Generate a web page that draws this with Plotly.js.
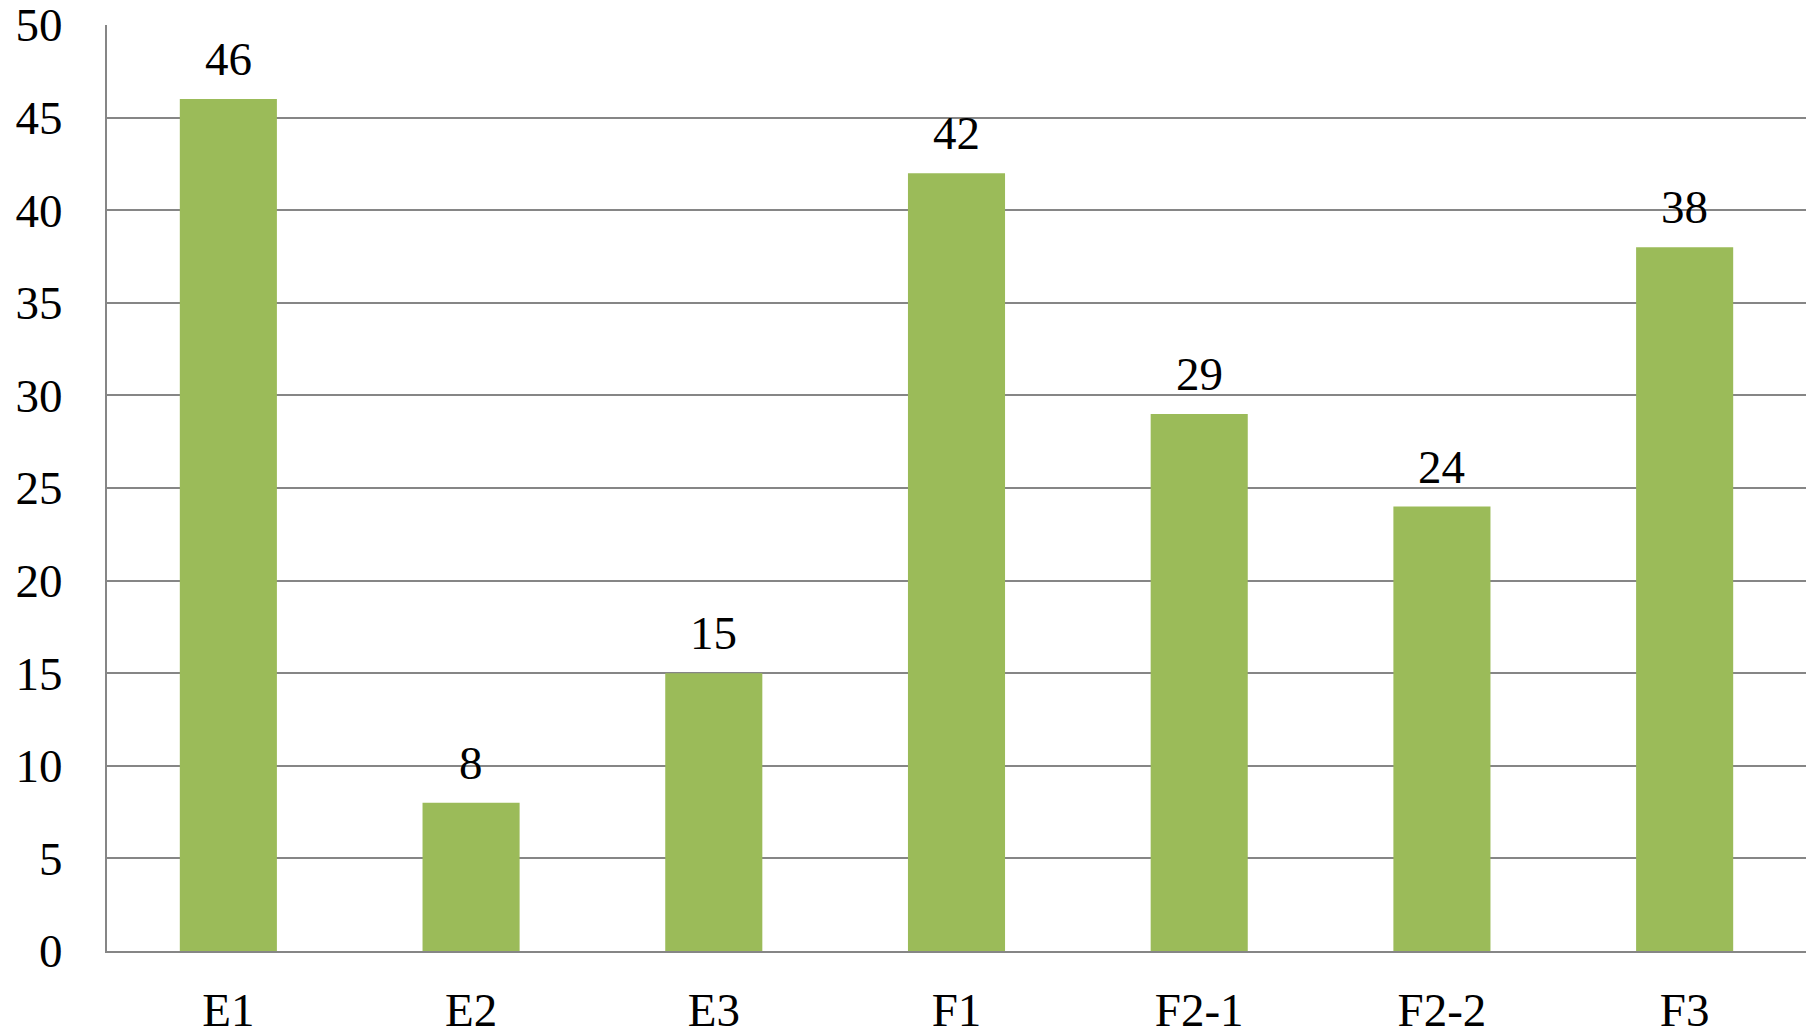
<!DOCTYPE html>
<html>
<head>
<meta charset="utf-8">
<script src="https://cdn.plot.ly/plotly-3.0.1.min.js"></script>
<style>html,body{margin:0;padding:0;background:#fff;}#chart{width:1815px;height:1035px;}</style>
</head>
<body>
<div id="chart"></div>
<script>
var categories = ["E1", "E2", "E3", "F1", "F2-1", "F2-2", "F3"];
var values = [46, 8, 15, 42, 29, 24, 38];
var yTicks = [0, 5, 10, 15, 20, 25, 30, 35, 40, 45, 50];

var fontFam = "Liberation Serif, DejaVu Serif, serif";

var trace = {
  type: "bar",
  x: categories,
  y: values,
  marker: {color: "#9BBB59"},
  hoverinfo: "x+y"
};

var annotations = categories.map(function (c, i) {
  return {
    x: c, y: values[i], xref: "x", yref: "y",
    text: String(values[i]), showarrow: false,
    yanchor: "bottom", yshift: 12,
    font: {family: fontFam, size: 47, color: "#000"}
  };
});

var layout = {
  width: 1815, height: 1035,
  margin: {l: 107, r: 9, t: 25, b: 84},
  paper_bgcolor: "#fff", plot_bgcolor: "#fff",
  bargap: 0.6,
  showlegend: false,
  font: {family: fontFam, size: 47, color: "#000"},
  xaxis: {
    type: "category",
    showline: true, linecolor: "#868686", linewidth: 2,
    ticks: "", showgrid: false, zeroline: false,
    ticklabelstandoff: 17,
    ticklabeloverflow: "allow",
    tickfont: {family: fontFam, size: 47, color: "#000"}
  },
  yaxis: {
    range: [0, 50], tickvals: yTicks,
    showline: true, linecolor: "#868686", linewidth: 2,
    showgrid: true, gridcolor: "#868686", gridwidth: 2,
    zeroline: false, ticks: "",
    ticklabelstandoff: 33,
    ticklabeloverflow: "allow",
    tickfont: {family: fontFam, size: 47, color: "#000"}
  },
  annotations: annotations
};

Plotly.newPlot("chart", [trace], layout, {displayModeBar: false, staticPlot: true});
</script>
</body>
</html>
